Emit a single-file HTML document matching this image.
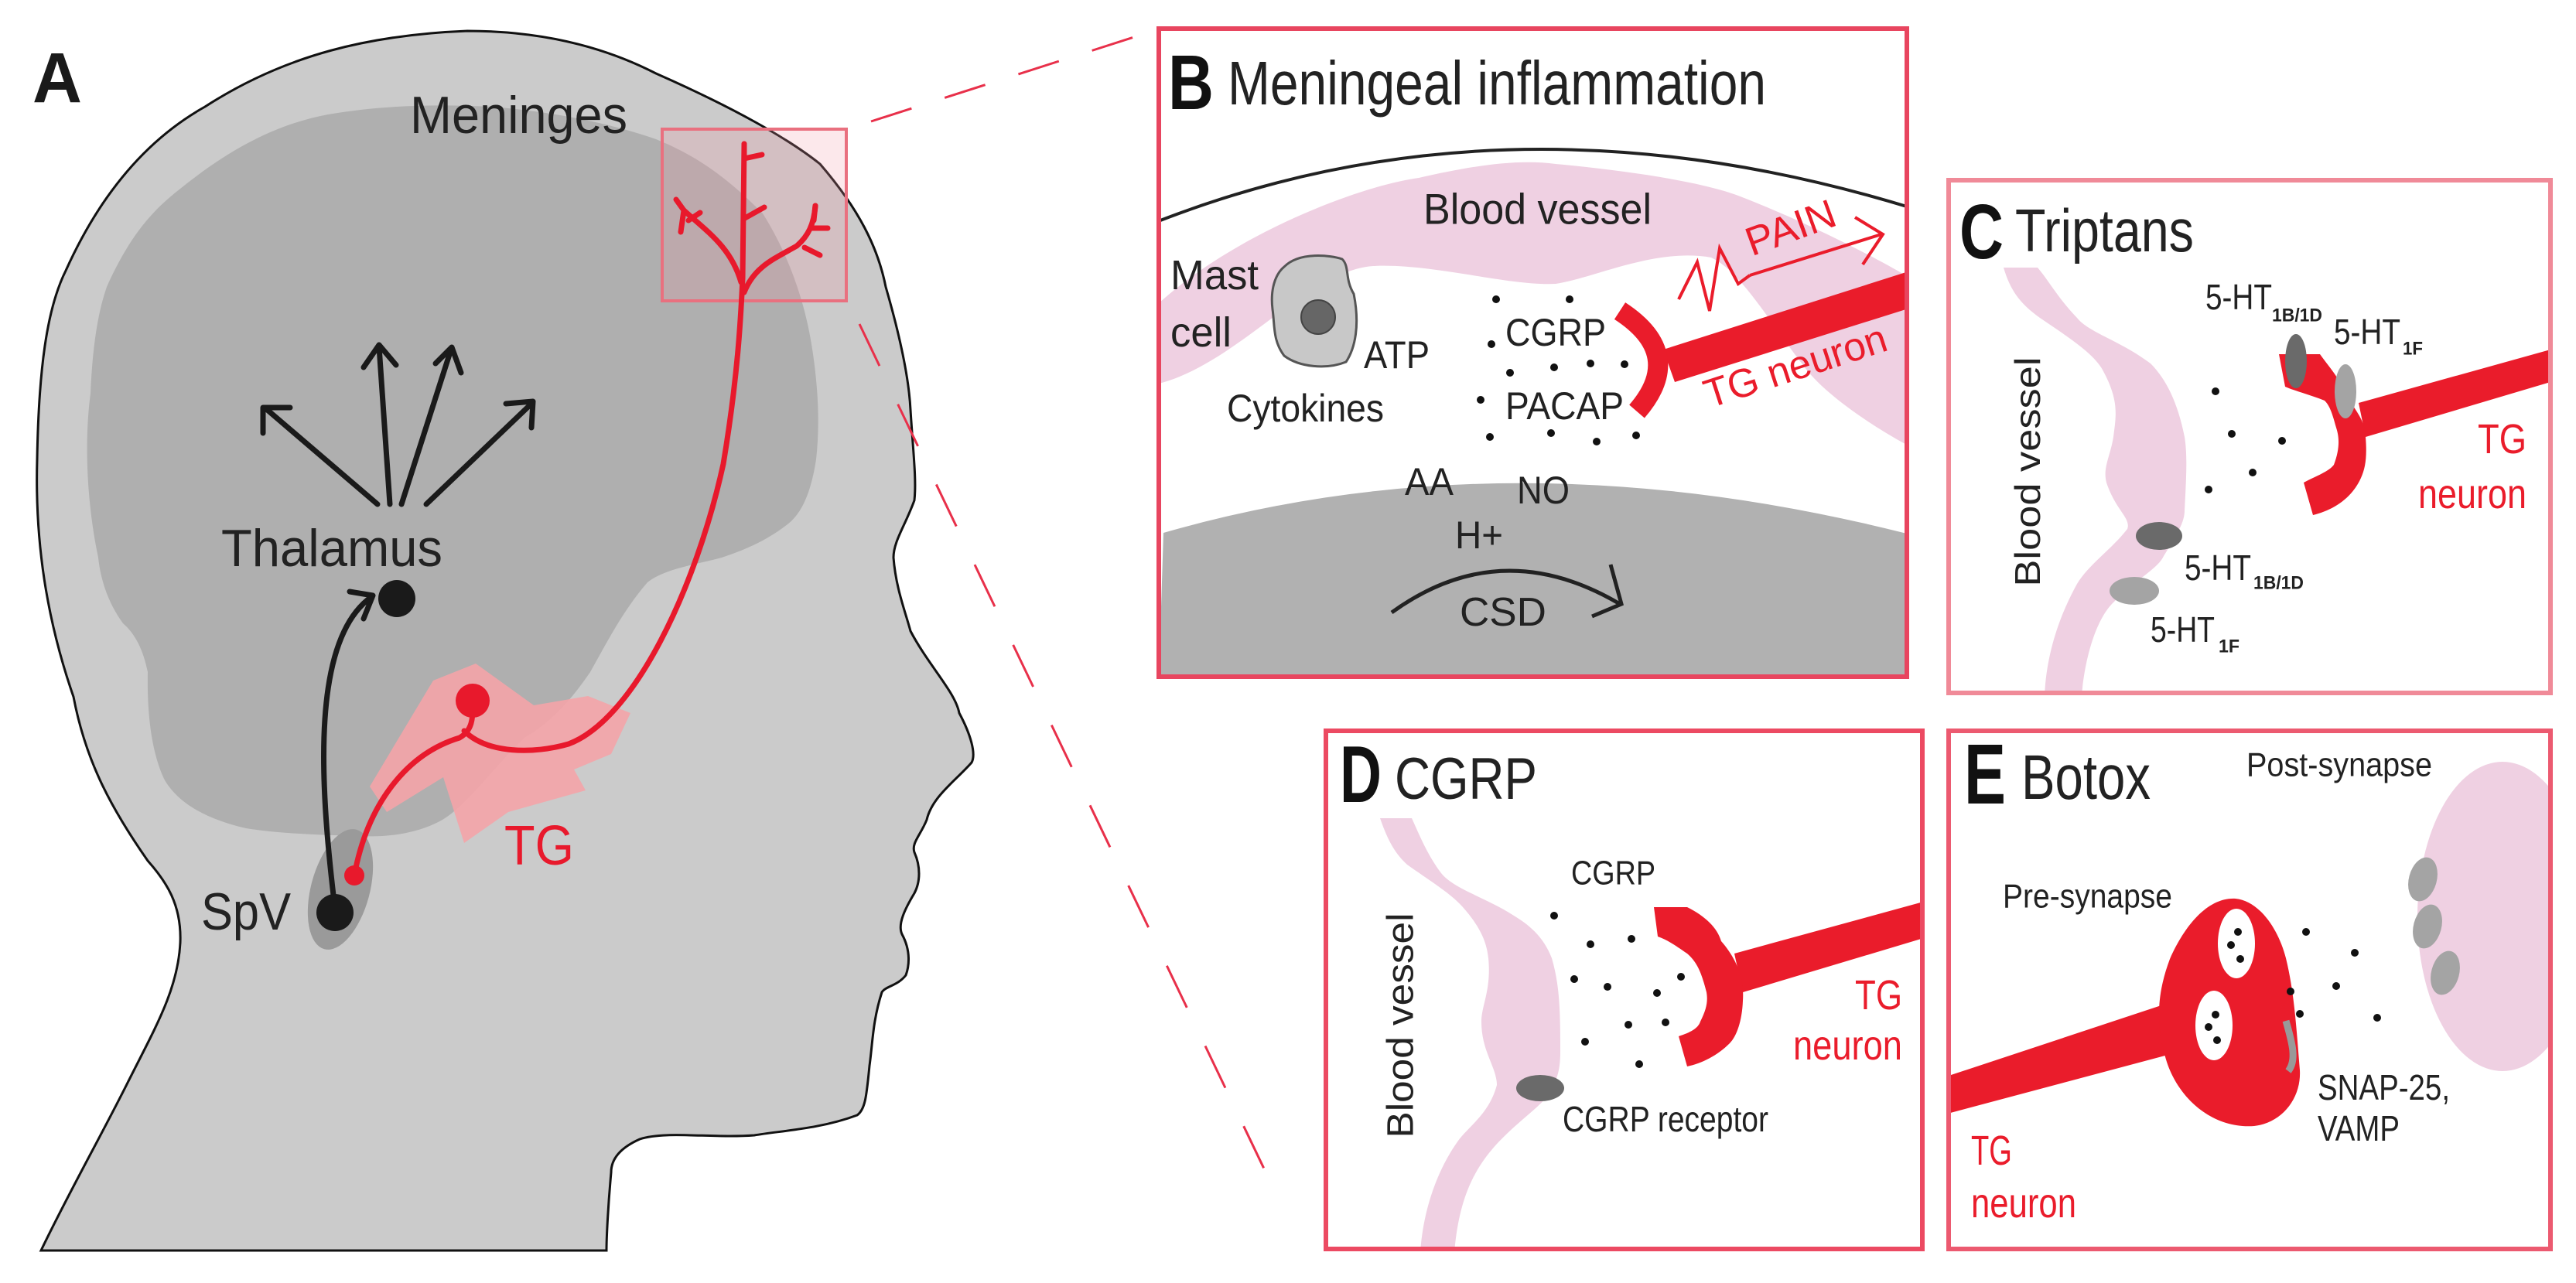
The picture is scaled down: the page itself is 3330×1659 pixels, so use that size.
<!DOCTYPE html>
<html><head><meta charset="utf-8"><style>
html,body{margin:0;padding:0;background:#fff}
svg{display:block}
text{font-family:"Liberation Sans",sans-serif}
</style></head><body>
<svg width="3330" height="1659" viewBox="0 0 3330 1659" xmlns="http://www.w3.org/2000/svg">
<defs>
<clipPath id="clipB"><rect x="1498" y="37" width="967" height="838"/></clipPath>
<clipPath id="clipC"><rect x="2519" y="233" width="778" height="663"/></clipPath>
<clipPath id="clipD"><rect x="1714" y="945" width="771" height="670"/></clipPath>
<clipPath id="clipE"><rect x="2519" y="945" width="778" height="670"/></clipPath>
</defs>

<!-- ============ PANEL A ============ -->
<path d="M53,1617 C90,1540 130,1470 165,1400 C200,1330 230,1280 233,1219 C235,1170 215,1140 191,1113 C140,1040 110,980 95,901 C60,800 45,700 48,594 C50,480 60,400 85,350 C130,250 190,180 265,138 C370,70 480,45 604,40 C700,40 780,60 848,95 C950,140 1020,180 1060,212 C1110,270 1135,320 1145,371 C1165,440 1175,490 1177,530 C1180,580 1185,620 1182,647 C1170,680 1155,700 1155,721 C1158,760 1170,790 1177,816 C1200,860 1235,895 1240,922 C1255,950 1262,975 1256,986 C1235,1010 1205,1030 1198,1060 C1190,1080 1178,1090 1182,1102 C1190,1120 1190,1140 1182,1155 C1170,1175 1160,1195 1166,1208 C1178,1230 1175,1250 1171,1261 C1160,1275 1145,1275 1140,1283 C1128,1320 1128,1350 1124,1378 C1120,1420 1118,1435 1108,1442 C1060,1460 1010,1462 975,1468 C920,1472 860,1462 827,1473 C800,1485 790,1500 790,1516 C786,1560 784,1600 784,1617 Z" fill="#cbcbcb" stroke="#111" stroke-width="3"/>

<path d="M127,721 C110,640 110,560 117,509 C120,440 128,400 138,371 C170,300 200,270 233,244 C300,190 360,160 424,148 C500,135 570,135 636,138 C720,145 790,160 848,180 C910,205 950,240 986,276 C1020,330 1040,390 1049,445 C1058,500 1060,550 1055,594 C1048,640 1035,665 1018,678 C990,700 960,712 933,721 C900,730 860,735 837,753 C805,790 785,830 763,869 C735,910 710,935 678,954 C640,990 605,1040 572,1060 C540,1078 500,1083 466,1081 C420,1080 360,1078 318,1071 C270,1060 230,1040 212,1007 C195,970 190,920 191,869 C185,840 175,820 159,806 C140,780 130,750 127,721 Z" fill="#afafaf"/>

<ellipse cx="440" cy="1150" rx="38" ry="80" transform="rotate(15 440 1150)" fill="#9a9a9a"/>
<path d="M478,1017 L530,930 L560,880 L615,858 L690,912 L760,900 L815,922 L790,975 L742,995 L757,1022 L657,1050 L600,1090 L573,1005 L500,1050 Z" fill="#f4a4a8" opacity="0.9"/>

<rect x="856" y="167" width="238" height="222" fill="rgba(240,150,165,0.22)" stroke="#e9707f" stroke-width="4"/>

<line x1="1126" y1="157" x2="1497" y2="38" stroke="#e8304a" stroke-width="3" stroke-dasharray="55,45"/>
<line x1="1111" y1="419" x2="1655" y2="1555" stroke="#e8304a" stroke-width="3" stroke-dasharray="60,55"/>

<g stroke="#e8192c" fill="none" stroke-linecap="round" stroke-width="7">
<path d="M458,1132 C475,1040 525,975 594,954 C610,945 612,930 611,906"/>
<path d="M600,945 C630,975 690,975 735,962 C820,930 900,760 935,600 C955,480 958,400 960,360 L962,186"/>
<path d="M958,365 C945,320 915,300 884,272"/>
<path d="M884,272 L874,258 M884,272 L880,300 M890,285 L905,275"/>
<path d="M962,378 C975,345 1000,335 1030,318 C1045,305 1052,290 1054,266"/>
<path d="M1054,266 L1052,285 M1040,320 L1060,330 M1050,295 L1070,295"/>
<path d="M963,282 L988,268"/>
<path d="M962,186 L962,200 M962,205 L985,200"/>
</g>
<circle cx="611" cy="906" r="22" fill="#e8192c"/>
<circle cx="458" cy="1132" r="13" fill="#e8192c"/>

<g stroke="#1a1a1a" fill="none" stroke-width="7" stroke-linecap="round" stroke-linejoin="round">
<path d="M432,1166 C413,1007 403,827 480,772"/>
<polyline points="452,765 482,770 470,800"/>
<line x1="488" y1="652" x2="342" y2="527"/>
<polyline points="340,560 340,527 375,527"/>
<line x1="504" y1="652" x2="490" y2="448"/>
<polyline points="470,475 490,446 512,472"/>
<line x1="519" y1="652" x2="583" y2="452"/>
<polyline points="563,470 584,449 596,482"/>
<line x1="551" y1="652" x2="688" y2="521"/>
<polyline points="654,522 689,519 687,553"/>
</g>
<circle cx="513" cy="774" r="24" fill="#1a1a1a"/>
<circle cx="433" cy="1180" r="24" fill="#1a1a1a"/>

<text x="42" y="132" font-size="92" font-weight="bold" fill="#1a1a1a" textLength="64" lengthAdjust="spacingAndGlyphs">A</text>
<text x="530" y="172" font-size="68" fill="#222" textLength="281" lengthAdjust="spacingAndGlyphs">Meninges</text>
<text x="286" y="732" font-size="68" fill="#222" textLength="286" lengthAdjust="spacingAndGlyphs">Thalamus</text>
<text x="260" y="1202" font-size="68" fill="#222" textLength="116" lengthAdjust="spacingAndGlyphs">SpV</text>
<text x="652" y="1118" font-size="72" fill="#e8192c" textLength="90" lengthAdjust="spacingAndGlyphs">TG</text>

<!-- ============ PANEL B ============ -->
<g clip-path="url(#clipB)">
<rect x="1498" y="37" width="967" height="838" fill="#fff"/>
<path d="M1504,689 Q1952,560 2465,690 L2465,880 L1498,880 Z" fill="#b1b1b1"/>
<path d="M1498,392 C1600,300 1760,240 1834,230 C1900,215 1960,205 2011,212 C2100,220 2200,235 2247,253 C2330,285 2420,330 2470,360 L2470,578 C2400,540 2350,500 2330,471 C2290,420 2250,350 2212,333 C2140,320 2060,360 2011,367 C1950,370 1850,340 1775,344 C1690,350 1600,470 1498,496 Z" fill="#efd0e2"/>
<path d="M1500,285 Q1952,110 2468,268" fill="none" stroke="#222" stroke-width="4"/>
<path d="M1660,345 C1680,325 1720,330 1735,335 C1745,345 1738,360 1750,380 C1758,420 1752,450 1740,468 C1715,478 1680,475 1660,460 C1645,440 1648,420 1645,400 C1642,375 1648,355 1660,345 Z" fill="#c8c8c8" stroke="#555" stroke-width="3"/>
<circle cx="1704" cy="410" r="22" fill="#666" stroke="#444" stroke-width="2"/>
<polygon points="2150,452 2470,350 2470,398 2165,494" fill="#ea1c2b"/>
<path d="M2094,402 Q2180,458 2116,532" fill="none" stroke="#ea1c2b" stroke-width="26"/>
<polyline points="2170,387 2194,339 2210,402 2223,321 2247,367 2262,356" fill="none" stroke="#ea1c2b" stroke-width="4"/>
<line x1="2262" y1="356" x2="2432" y2="303" stroke="#ea1c2b" stroke-width="4"/>
<polyline points="2398,281 2434,303 2408,342" fill="none" stroke="#ea1c2b" stroke-width="4"/>
<path d="M1799,792 Q1940,690 2094,781" fill="none" stroke="#222" stroke-width="5"/>
<polyline points="2058,797 2096,781 2082,730" fill="none" stroke="#222" stroke-width="5"/>
<g fill="#111">
<circle cx="1934" cy="387" r="5"/><circle cx="2029" cy="387" r="5"/><circle cx="1928" cy="445" r="5"/>
<circle cx="1952" cy="482" r="5"/><circle cx="2009" cy="475" r="5"/><circle cx="2056" cy="470" r="5"/>
<circle cx="2100" cy="471" r="5"/><circle cx="1914" cy="517" r="5"/><circle cx="1926" cy="565" r="5"/>
<circle cx="2005" cy="560" r="5"/><circle cx="2064" cy="571" r="5"/><circle cx="2115" cy="563" r="5"/>
</g>
<g fill="#222" dominant-baseline="central">
<text x="1840" y="270" font-size="56" textLength="295" lengthAdjust="spacingAndGlyphs">Blood vessel</text>
<text x="1513" y="356" font-size="54" textLength="114" lengthAdjust="spacingAndGlyphs">Mast</text>
<text x="1513" y="430" font-size="54" textLength="79" lengthAdjust="spacingAndGlyphs">cell</text>
<text x="1763" y="459" font-size="50" textLength="85" lengthAdjust="spacingAndGlyphs">ATP</text>
<text x="1586" y="528" font-size="50" textLength="203" lengthAdjust="spacingAndGlyphs">Cytokines</text>
<text x="1946" y="430" font-size="50" textLength="130" lengthAdjust="spacingAndGlyphs">CGRP</text>
<text x="1946" y="525" font-size="50" textLength="153" lengthAdjust="spacingAndGlyphs">PACAP</text>
<text x="1816" y="623" font-size="50" textLength="63" lengthAdjust="spacingAndGlyphs">AA</text>
<text x="1961" y="634" font-size="50" textLength="68" lengthAdjust="spacingAndGlyphs">NO</text>
<text x="1881" y="692" font-size="50" textLength="62" lengthAdjust="spacingAndGlyphs">H+</text>
<text x="1887" y="792" font-size="52" textLength="112" lengthAdjust="spacingAndGlyphs">CSD</text>
</g>
<text x="2315" y="295" font-size="52" fill="#ea1c2b" text-anchor="middle" dominant-baseline="central" transform="rotate(-20 2315 295)" textLength="120" lengthAdjust="spacingAndGlyphs">PAIN</text>
<text x="2321" y="474" font-size="52" fill="#ea1c2b" text-anchor="middle" dominant-baseline="central" transform="rotate(-18 2321 474)" textLength="245" lengthAdjust="spacingAndGlyphs">TG neuron</text>
<text x="1510" y="141" font-size="100" font-weight="bold" fill="#111" textLength="59" lengthAdjust="spacingAndGlyphs">B</text>
<text x="1587" y="135" font-size="80" fill="#222" textLength="696" lengthAdjust="spacingAndGlyphs">Meningeal inflammation</text>
</g>
<rect x="1498" y="37" width="967" height="838" fill="none" stroke="#e8455f" stroke-width="6"/>

<!-- ============ PANEL C ============ -->
<g clip-path="url(#clipC)">
<path d="M2590,346 C2600,380 2615,395 2637,411 C2680,440 2710,460 2720,482 C2740,520 2735,540 2732,565 C2728,590 2718,605 2723,624 C2735,660 2755,670 2750,684 C2730,710 2700,730 2685,755 C2660,800 2645,850 2643,900 L2691,900 C2695,850 2710,800 2732,779 C2760,750 2790,735 2797,719 C2815,690 2824,675 2824,660 C2826,620 2828,590 2824,565 C2815,520 2800,490 2780,470 C2740,440 2700,430 2685,411 C2660,385 2650,365 2634,346 Z" fill="#efd0e2"/>
<ellipse cx="2791" cy="693" rx="30" ry="18" fill="#6a6a6a"/>
<ellipse cx="2759" cy="764" rx="32" ry="18" fill="#a4a4a4"/>
<polygon points="3049,521 3297,452 3297,494 3058,565" fill="#ea1c2b"/>
<path d="M2946,458 L2999,458 C3015,480 3025,490 3029,506 C3045,530 3058,545 3058,565 C3060,590 3058,605 3052,618 C3040,645 3015,660 2990,666 L2978,624 C2995,615 3010,610 3017,601 C3025,580 3024,565 3020,553 C3015,535 3012,525 3005,518 C2985,510 2965,505 2954,500 Z" fill="#ea1c2b"/>
<ellipse cx="2968" cy="467" rx="14" ry="35" fill="#6a6a6a"/>
<ellipse cx="3032" cy="506" rx="14" ry="35" fill="#a4a4a4"/>
<g fill="#111">
<circle cx="2864" cy="506" r="5"/><circle cx="2885" cy="561" r="5"/><circle cx="2950" cy="570" r="5"/>
<circle cx="2912" cy="611" r="5"/><circle cx="2855" cy="633" r="5"/>
</g>
<text x="2621" y="610" font-size="46" fill="#222" text-anchor="middle" dominant-baseline="central" transform="rotate(-90 2621 610)" textLength="297" lengthAdjust="spacingAndGlyphs">Blood vessel</text>
<g fill="#222" dominant-baseline="central">
<text x="2851" y="384" font-size="46" textLength="86" lengthAdjust="spacingAndGlyphs">5-HT</text>
<text x="2937" y="408" font-size="24" font-weight="bold" textLength="65" lengthAdjust="spacingAndGlyphs">1B/1D</text>
<text x="3017" y="429" font-size="46" textLength="86" lengthAdjust="spacingAndGlyphs">5-HT</text>
<text x="3106" y="451" font-size="24" font-weight="bold" textLength="26" lengthAdjust="spacingAndGlyphs">1F</text>
<text x="2824" y="734" font-size="46" textLength="86" lengthAdjust="spacingAndGlyphs">5-HT</text>
<text x="2913" y="754" font-size="24" font-weight="bold" textLength="65" lengthAdjust="spacingAndGlyphs">1B/1D</text>
<text x="2780" y="814" font-size="46" textLength="83" lengthAdjust="spacingAndGlyphs">5-HT</text>
<text x="2868" y="836" font-size="24" font-weight="bold" textLength="27" lengthAdjust="spacingAndGlyphs">1F</text>
</g>
<text x="3203" y="568" font-size="54" fill="#ea1c2b" dominant-baseline="central" textLength="63" lengthAdjust="spacingAndGlyphs">TG</text>
<text x="3126" y="639" font-size="54" fill="#ea1c2b" dominant-baseline="central" textLength="140" lengthAdjust="spacingAndGlyphs">neuron</text>
<text x="2533" y="334" font-size="100" font-weight="bold" fill="#111" textLength="57" lengthAdjust="spacingAndGlyphs">C</text>
<text x="2605" y="325" font-size="78" fill="#222" textLength="231" lengthAdjust="spacingAndGlyphs">Triptans</text>
</g>
<rect x="2519" y="233" width="778" height="663" fill="none" stroke="#f08a98" stroke-width="6"/>

<!-- ============ PANEL D ============ -->
<g clip-path="url(#clipD)">
<path d="M1784,1058 C1795,1090 1805,1105 1819,1118 C1850,1140 1875,1155 1891,1173 C1915,1200 1922,1220 1924,1239 C1928,1280 1915,1300 1915,1321 C1915,1360 1935,1380 1935,1403 C1925,1440 1900,1455 1885,1475 C1860,1510 1840,1560 1836,1620 L1880,1620 C1885,1560 1900,1520 1929,1486 C1960,1450 1995,1430 2006,1409 C2018,1385 2017,1370 2017,1349 C2017,1300 2015,1270 2006,1239 C1995,1210 1975,1195 1957,1184 C1920,1160 1880,1150 1863,1129 C1845,1105 1835,1080 1825,1058 Z" fill="#efd0e2"/>
<ellipse cx="1991" cy="1407" rx="31" ry="17" fill="#6a6a6a"/>
<polygon points="2242,1233 2490,1165 2490,1212 2253,1283" fill="#ea1c2b"/>
<path d="M2138,1173 L2181,1173 C2205,1185 2220,1200 2225,1217 C2245,1240 2255,1265 2253,1294 C2252,1320 2245,1340 2236,1349 C2220,1365 2200,1375 2181,1379 L2170,1340 C2185,1335 2195,1330 2198,1321 C2206,1305 2208,1295 2206,1283 C2200,1260 2195,1245 2181,1233 C2165,1222 2155,1215 2143,1211 Z" fill="#ea1c2b"/>
<g fill="#111">
<circle cx="2009" cy="1184" r="5"/><circle cx="2056" cy="1221" r="5"/><circle cx="2109" cy="1214" r="5"/>
<circle cx="2035" cy="1266" r="5"/><circle cx="2078" cy="1276" r="5"/><circle cx="2142" cy="1284" r="5"/>
<circle cx="2173" cy="1263" r="5"/><circle cx="2105" cy="1325" r="5"/><circle cx="2153" cy="1322" r="5"/>
<circle cx="2049" cy="1347" r="5"/><circle cx="2119" cy="1376" r="5"/>
</g>
<text x="1811" y="1326" font-size="48" fill="#222" text-anchor="middle" dominant-baseline="central" transform="rotate(-90 1811 1326)" textLength="291" lengthAdjust="spacingAndGlyphs">Blood vessel</text>
<text x="2031" y="1129" font-size="44" fill="#222" dominant-baseline="central" textLength="109" lengthAdjust="spacingAndGlyphs">CGRP</text>
<text x="2020" y="1447" font-size="46" fill="#222" dominant-baseline="central" textLength="266" lengthAdjust="spacingAndGlyphs">CGRP receptor</text>
<text x="2398" y="1287" font-size="54" fill="#ea1c2b" dominant-baseline="central" textLength="61" lengthAdjust="spacingAndGlyphs">TG</text>
<text x="2318" y="1352" font-size="54" fill="#ea1c2b" dominant-baseline="central" textLength="141" lengthAdjust="spacingAndGlyphs">neuron</text>
<text x="1732" y="1037" font-size="104" font-weight="bold" fill="#111" textLength="54" lengthAdjust="spacingAndGlyphs">D</text>
<text x="1803" y="1033" font-size="76" fill="#222" textLength="184" lengthAdjust="spacingAndGlyphs">CGRP</text>
</g>
<rect x="1714" y="945" width="771" height="670" fill="none" stroke="#ec4a62" stroke-width="6"/>

<!-- ============ PANEL E ============ -->
<g clip-path="url(#clipE)">
<ellipse cx="3235" cy="1185" rx="110" ry="200" fill="#efd0e2"/>
<ellipse cx="3132" cy="1137" rx="18" ry="29" transform="rotate(15 3132 1137)" fill="#a4a4a4"/>
<ellipse cx="3138" cy="1198" rx="18" ry="29" transform="rotate(15 3138 1198)" fill="#a4a4a4"/>
<ellipse cx="3161" cy="1258" rx="18" ry="29" transform="rotate(15 3161 1258)" fill="#a4a4a4"/>
<polygon points="2510,1394 2800,1298 2810,1362 2510,1442" fill="#ea1c2b"/>
<path d="M2890,1162 C2920,1165 2945,1200 2955,1239 C2965,1280 2968,1320 2973,1384 C2975,1420 2950,1452 2914,1456 C2860,1460 2815,1420 2800,1370 C2785,1320 2790,1280 2805,1240 C2825,1195 2855,1160 2890,1162 Z" fill="#ea1c2b"/>
<ellipse cx="2891" cy="1220" rx="24" ry="45" fill="#fff"/>
<ellipse cx="2862" cy="1326" rx="24" ry="45" fill="#fff"/>
<path d="M2955,1320 C2962,1345 2970,1370 2958,1385" fill="none" stroke="#999" stroke-width="9"/>
<g fill="#111">
<circle cx="2893" cy="1205" r="5"/><circle cx="2884" cy="1222" r="5"/><circle cx="2896" cy="1240" r="5"/>
<circle cx="2864" cy="1312" r="5"/><circle cx="2855" cy="1328" r="5"/><circle cx="2866" cy="1345" r="5"/>
<circle cx="2981" cy="1205" r="5"/><circle cx="3044" cy="1232" r="5"/><circle cx="2961" cy="1282" r="5"/>
<circle cx="3020" cy="1275" r="5"/><circle cx="2973" cy="1311" r="5"/><circle cx="3073" cy="1316" r="5"/>
</g>
<g fill="#222" dominant-baseline="central">
<text x="2904" y="989" font-size="44" textLength="240" lengthAdjust="spacingAndGlyphs">Post-synapse</text>
<text x="2589" y="1159" font-size="44" textLength="219" lengthAdjust="spacingAndGlyphs">Pre-synapse</text>
<text x="2996" y="1406" font-size="46" textLength="171" lengthAdjust="spacingAndGlyphs">SNAP-25,</text>
<text x="2996" y="1459" font-size="46" textLength="106" lengthAdjust="spacingAndGlyphs">VAMP</text>
</g>
<text x="2548" y="1488" font-size="54" fill="#ea1c2b" dominant-baseline="central" textLength="53" lengthAdjust="spacingAndGlyphs">TG</text>
<text x="2548" y="1556" font-size="54" fill="#ea1c2b" dominant-baseline="central" textLength="136" lengthAdjust="spacingAndGlyphs">neuron</text>
<text x="2539" y="1039" font-size="110" font-weight="bold" fill="#111" textLength="54" lengthAdjust="spacingAndGlyphs">E</text>
<text x="2613" y="1033" font-size="82" fill="#222" textLength="167" lengthAdjust="spacingAndGlyphs">Botox</text>
</g>
<rect x="2519" y="945" width="778" height="670" fill="none" stroke="#ec5a70" stroke-width="6"/>
</svg>
</body></html>
